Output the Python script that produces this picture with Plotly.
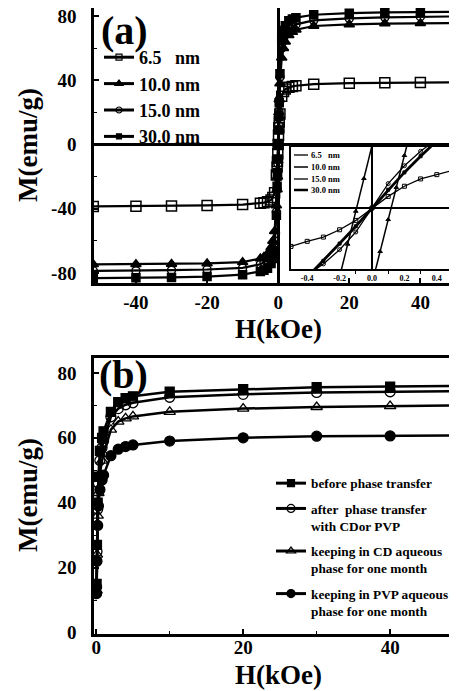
import plotly.graph_objects as go

# ---------------- data: panel (a) main loops ----------------
H_a = [-52, -40, -30, -20, -10, -5, -4, -3, -2, -1.5, -1, -0.5, -0.3, -0.2, -0.1, 0,
       0.1, 0.2, 0.3, 0.5, 1, 1.5, 2, 3, 4, 5, 10, 20, 30, 40, 52]
M_65 = [-38.5, -38.4, -38.2, -37.9, -37.4, -36.6, -36.2, -35.6, -34.5, -33, -30, -19, -14, -10.5, -5.8, 0,
        5.8, 10.5, 14, 19, 30, 33, 34.5, 35.6, 36.2, 36.6, 37.6, 38.2, 38.5, 38.6, 38.7]
M_10 = [-74.6, -74.5, -74.3, -74, -73.2, -71, -70, -68, -64, -60, -54, -38, -28, -20, -10, 0,
        10, 20, 28, 38, 54, 60, 64, 68, 70, 71.5, 73.8, 74.8, 75.3, 75.5, 75.6]
M_15 = [-78.6, -78.5, -78.2, -77.8, -76.8, -74.5, -73.5, -72, -68.5, -65, -60, -42, -28, -20.5, -11.8, 0,
        12, 20.8, 28, 42, 60, 65, 68.5, 72, 73.5, 74.8, 77.3, 78.5, 79.2, 79.6, 79.8]
M_30 = [-83.2, -83, -82.7, -82.2, -81, -79, -78.2, -77, -74, -71, -66, -44, -26, -17.5, -9, 0,
        9, 17.5, 26, 44, 66, 71, 74, 77, 78.2, 79, 80.8, 81.8, 82.3, 82.5, 82.6]
names_a = ["6.5\u00a0\u00a0\u00a0nm", "10.0 nm", "15.0 nm", "30.0 nm"]
xt_a = [-40, -20, 0, 20, 40]
xt_a_text = ["-40", "-20", "0", "20", "40"]
yt_a = [-80, -40, 0, 40, 80]
yt_a_text = ["-80", "-40", "0", "40", "80"]

# ---------------- data: panel (a) inset ----------------
Hi_65 = [-0.5, -0.4, -0.3, -0.2, -0.1, 0, 0.1, 0.2, 0.3, 0.4, 0.5]
Mi_65 = [-18.9, -16.4, -14.3, -10.7, -6.1, 0, 5.7, 10.7, 14.3, 16.4, 18.5]
Hi_10_down = [-0.2, -0.15, -0.1, -0.05, 0.0]
Mi_10_down = [-33.9, -17.8, -1.6, 14.5, 30.7]
Hi_10_up = [0.0, 0.05, 0.1, 0.15, 0.2, 0.25]
Mi_10_up = [-37.2, -21.4, -5.7, 10.1, 25.8, 41.6]
Hi_15 = [-0.4, -0.3, -0.2, -0.1, 0, 0.1, 0.2, 0.3, 0.4]
Mi_15 = [-33, -27.5, -20.5, -11.8, 0, 12, 20.8, 27.9, 34]
Hi_30 = [-0.4, -0.3, -0.2, -0.1, 0, 0.1, 0.2, 0.3, 0.4]
Mi_30 = [-34, -26, -17.5, -9, 0, 9, 17.5, 25.5, 33]
inset_ticks = [-0.4, -0.2, 0.0, 0.2, 0.4]
inset_ticktext = ["-0.4", "-0.2", "0.0", "0.2", "0.4"]

# ---------------- data: panel (b) ----------------
H_b = [0.05, 0.1, 0.2, 0.3, 0.5, 0.8, 1, 2, 3, 4, 5, 10, 20, 30, 40, 50]
M_before = [15, 27, 40, 48, 56, 60, 62, 68, 71, 72.2, 72.8, 74.2, 75, 75.6, 75.8, 76]
M_after = [14, 25, 38, 46, 53, 57, 59, 66.5, 69, 70.2, 70.8, 72.5, 73.4, 74, 74.2, 74.4]
M_cd = [13, 24, 36, 43, 49, 53, 55, 62.5, 65, 66, 66.6, 68, 69, 69.5, 69.8, 70]
M_pvp = [12, 22, 33, 39, 44, 47, 48.5, 54.5, 56.5, 57.3, 57.8, 59, 60, 60.5, 60.6, 60.7]
names_b = ["before phase transfer",
           "after\u00a0\u00a0phase transfer<br>with CDor PVP",
           "keeping in CD aqueous<br>phase for one month",
           "keeping in PVP aqueous<br>phase for one month"]

# page is drawn with an 8px body margin: figure size = window - 8
OFF = 8
W, Hh = 449, 683
FONT = "Liberation Serif"


def px(x):
    return min(1.0, max(0.0, (x - OFF) / W))


def py(y):
    return min(1.0, max(0.0, 1 - (y - OFF) / Hh))


fig = go.Figure()

# panel (a) main
a_styles = [
    dict(symbol="square-open", size=10),
    dict(symbol="triangle-up", size=9),
    dict(symbol="circle-open", size=8),
    dict(symbol="square", size=8),
]
a_leg_sizes = [6, 7, 6, 5]
for name, m, st, ls in zip(names_a, [M_65, M_10, M_15, M_30], a_styles, a_leg_sizes):
    fig.add_trace(go.Scatter(
        x=H_a, y=m, name=name, mode="lines+markers", showlegend=False,
        line=dict(color="black", width=2.2),
        marker=dict(color="black", line=dict(color="black", width=1.5), **st),
        xaxis="x", yaxis="y"))
    # legend entry (no data of its own)
    fig.add_trace(go.Scatter(
        x=[None], y=[None], name=name, mode="lines+markers",
        line=dict(color="black", width=3),
        marker=dict(color="black", symbol=st["symbol"], size=ls,
                    line=dict(color="black", width=1.2)),
        xaxis="x", yaxis="y", legend="legend"))

# inset
inset_sets = [
    (Hi_65, Mi_65, dict(symbol="square-open", size=4), 1.3),
    (Hi_10_down, Mi_10_down, dict(symbol="triangle-up", size=4), 1.5),
    (Hi_10_up, Mi_10_up, dict(symbol="triangle-up", size=4), 1.5),
    (Hi_15, Mi_15, dict(symbol="circle-open", size=4), 1.3),
    (Hi_30, Mi_30, dict(symbol="square", size=3), 2.8),
]
for hx, my, st, lw in inset_sets:
    fig.add_trace(go.Scatter(
        x=hx, y=my, mode="lines+markers", showlegend=False,
        line=dict(color="black", width=lw),
        marker=dict(color="black", line=dict(color="black", width=1), **st),
        xaxis="x2", yaxis="y2"))

# panel (b)
b_styles = [
    dict(symbol="square", size=9),
    dict(symbol="circle-open", size=10),
    dict(symbol="triangle-up-open", size=10),
    dict(symbol="circle", size=10),
]
b_leg_sizes = [7, 8, 8, 8]
for i, (name, m, st, ls) in enumerate(zip(names_b, [M_before, M_after, M_cd, M_pvp], b_styles, b_leg_sizes)):
    fig.add_trace(go.Scatter(
        x=H_b, y=m, name=name, mode="lines+markers", showlegend=False,
        line=dict(color="black", width=2.5),
        marker=dict(color="black", line=dict(color="black", width=1.3), **st),
        xaxis="x3", yaxis="y3"))
    fig.add_trace(go.Scatter(
        x=[None], y=[None], name=name, mode="lines+markers", legendgroup=f"b{i}",
        line=dict(color="black", width=3),
        marker=dict(color="black", symbol=st["symbol"], size=ls,
                    line=dict(color="black", width=1.2)),
        xaxis="x3", yaxis="y3", legend="legend2"))

tickfont = dict(family=FONT, size=19, color="black", weight="bold")
axis_common = dict(showline=True, linecolor="black", linewidth=2.5, mirror=True,
                   ticks="inside", ticklen=5, tickwidth=1.5, tickcolor="black",
                   showgrid=False, tickfont=tickfont, automargin=False,
                   ticklabeloverflow="allow")

fig.update_layout(
    width=W, height=Hh, margin=dict(l=0, r=0, t=0, b=0),
    paper_bgcolor="white", plot_bgcolor="white", template="none",
    font=dict(family=FONT, color="black"),
    xaxis=dict(domain=[px(94), 1], range=[-51.8, 50.3], anchor="y",
               tickvals=xt_a, ticktext=xt_a_text, ticklabelstandoff=0,
               zeroline=True, zerolinecolor="black", zerolinewidth=2.5,
               **axis_common),
    yaxis=dict(domain=[py(283), py(8)], range=[-86.2, 85], anchor="x",
               tickvals=yt_a, ticktext=yt_a_text, ticklabelstandoff=11,
               minor=dict(tickvals=[-60, -20, 20, 60], ticks="inside", ticklen=3,
                          tickcolor="black", tickwidth=1.2),
               zeroline=True, zerolinecolor="black", zerolinewidth=2.5,
               **axis_common),
    xaxis2=dict(domain=[px(291), px(453)], range=[-0.5, 0.5], anchor="y2",
                showline=True, linecolor="black", linewidth=1.5, mirror=True,
                ticks="", showgrid=False, tickvals=inset_ticks, ticktext=inset_ticktext,
                tickfont=dict(family=FONT, size=8, color="black", weight="bold"),
                ticklabelstandoff=1,
                minor=dict(tickvals=[-0.1, 0.1, 0.3], ticks="outside", ticklen=3,
                           tickcolor="black", tickwidth=1),
                zeroline=True, zerolinecolor="black", zerolinewidth=1.5,
                automargin=False),
    yaxis2=dict(domain=[py(269), py(147)], range=[-30, 30], anchor="x2",
                showline=True, linecolor="black", linewidth=1.5, mirror=True,
                ticks="", showticklabels=False, showgrid=False,
                zeroline=True, zerolinecolor="black", zerolinewidth=1.5,
                automargin=False),
    xaxis3=dict(domain=[px(94), 1], range=[-0.3, 49.1], anchor="y3",
                tickvals=[0, 20, 40], ticklabelstandoff=-5,
                minor=dict(tickvals=[10, 30], ticks="inside", ticklen=3,
                           tickcolor="black", tickwidth=1.2),
                zeroline=False, **axis_common),
    yaxis3=dict(domain=[py(633.5), py(358)], range=[-0.3, 84.6], anchor="x3",
                tickvals=[0, 20, 40, 60, 80], ticklabelstandoff=11,
                minor=dict(tickvals=[10, 30, 50, 70], ticks="inside", ticklen=3,
                           tickcolor="black", tickwidth=1.2),
                zeroline=False, **axis_common),
    legend=dict(x=px(99), y=py(39), xanchor="left", yanchor="top",
                bgcolor="rgba(0,0,0,0)", borderwidth=0, tracegroupgap=0,
                font=dict(family=FONT, size=18, color="black", weight="bold")),
    legend2=dict(x=px(271), y=py(468), xanchor="left", yanchor="top",
                 bgcolor="rgba(0,0,0,0)", borderwidth=0, tracegroupgap=5,
                 valign="top",
                 font=dict(family=FONT, size=13.3, color="black", weight="bold")),
)

ann_font = dict(family=FONT, color="black", weight="bold")
annotations = [
    dict(text="(a)", x=px(124), y=py(31), font=dict(size=40, **ann_font)),
    dict(text="(b)", x=px(123), y=py(374), font=dict(size=40, **ann_font)),
    dict(text="M(emu/g)", x=px(28), y=py(145), textangle=-90, font=dict(size=27, **ann_font)),
    dict(text="H(kOe)", x=px(278), y=py(329), font=dict(size=27, **ann_font)),
    dict(text="M(emu/g)", x=px(28), y=py(495), textangle=-90, font=dict(size=27, **ann_font)),
    dict(text="H(kOe)", x=px(278), y=py(675), font=dict(size=27, **ann_font)),
]
# inset legend (text + sample lines)
inset_rows = [155, 167, 179, 190]
inset_labels = ["6.5\u00a0\u00a0\u00a0nm", "10.0 nm", "15.0 nm", "30.0 nm"]
inset_lw = [1.3, 1.5, 1.3, 2.5]
shapes = []
for yr, lab, lw in zip(inset_rows, inset_labels, inset_lw):
    annotations.append(dict(text=lab, x=px(309), y=py(yr), xanchor="left",
                            font=dict(size=8.5, **ann_font)))
    shapes.append(dict(type="line", xref="paper", yref="paper",
                       x0=px(294), x1=px(308), y0=py(yr), y1=py(yr),
                       line=dict(color="black", width=lw)))
for a in annotations:
    a.setdefault("xref", "paper")
    a.setdefault("yref", "paper")
    a.setdefault("xanchor", "center")
    a.setdefault("yanchor", "middle")
    a.setdefault("showarrow", False)
fig.update_layout(annotations=annotations, shapes=shapes)

fig.write_html("out.html")
